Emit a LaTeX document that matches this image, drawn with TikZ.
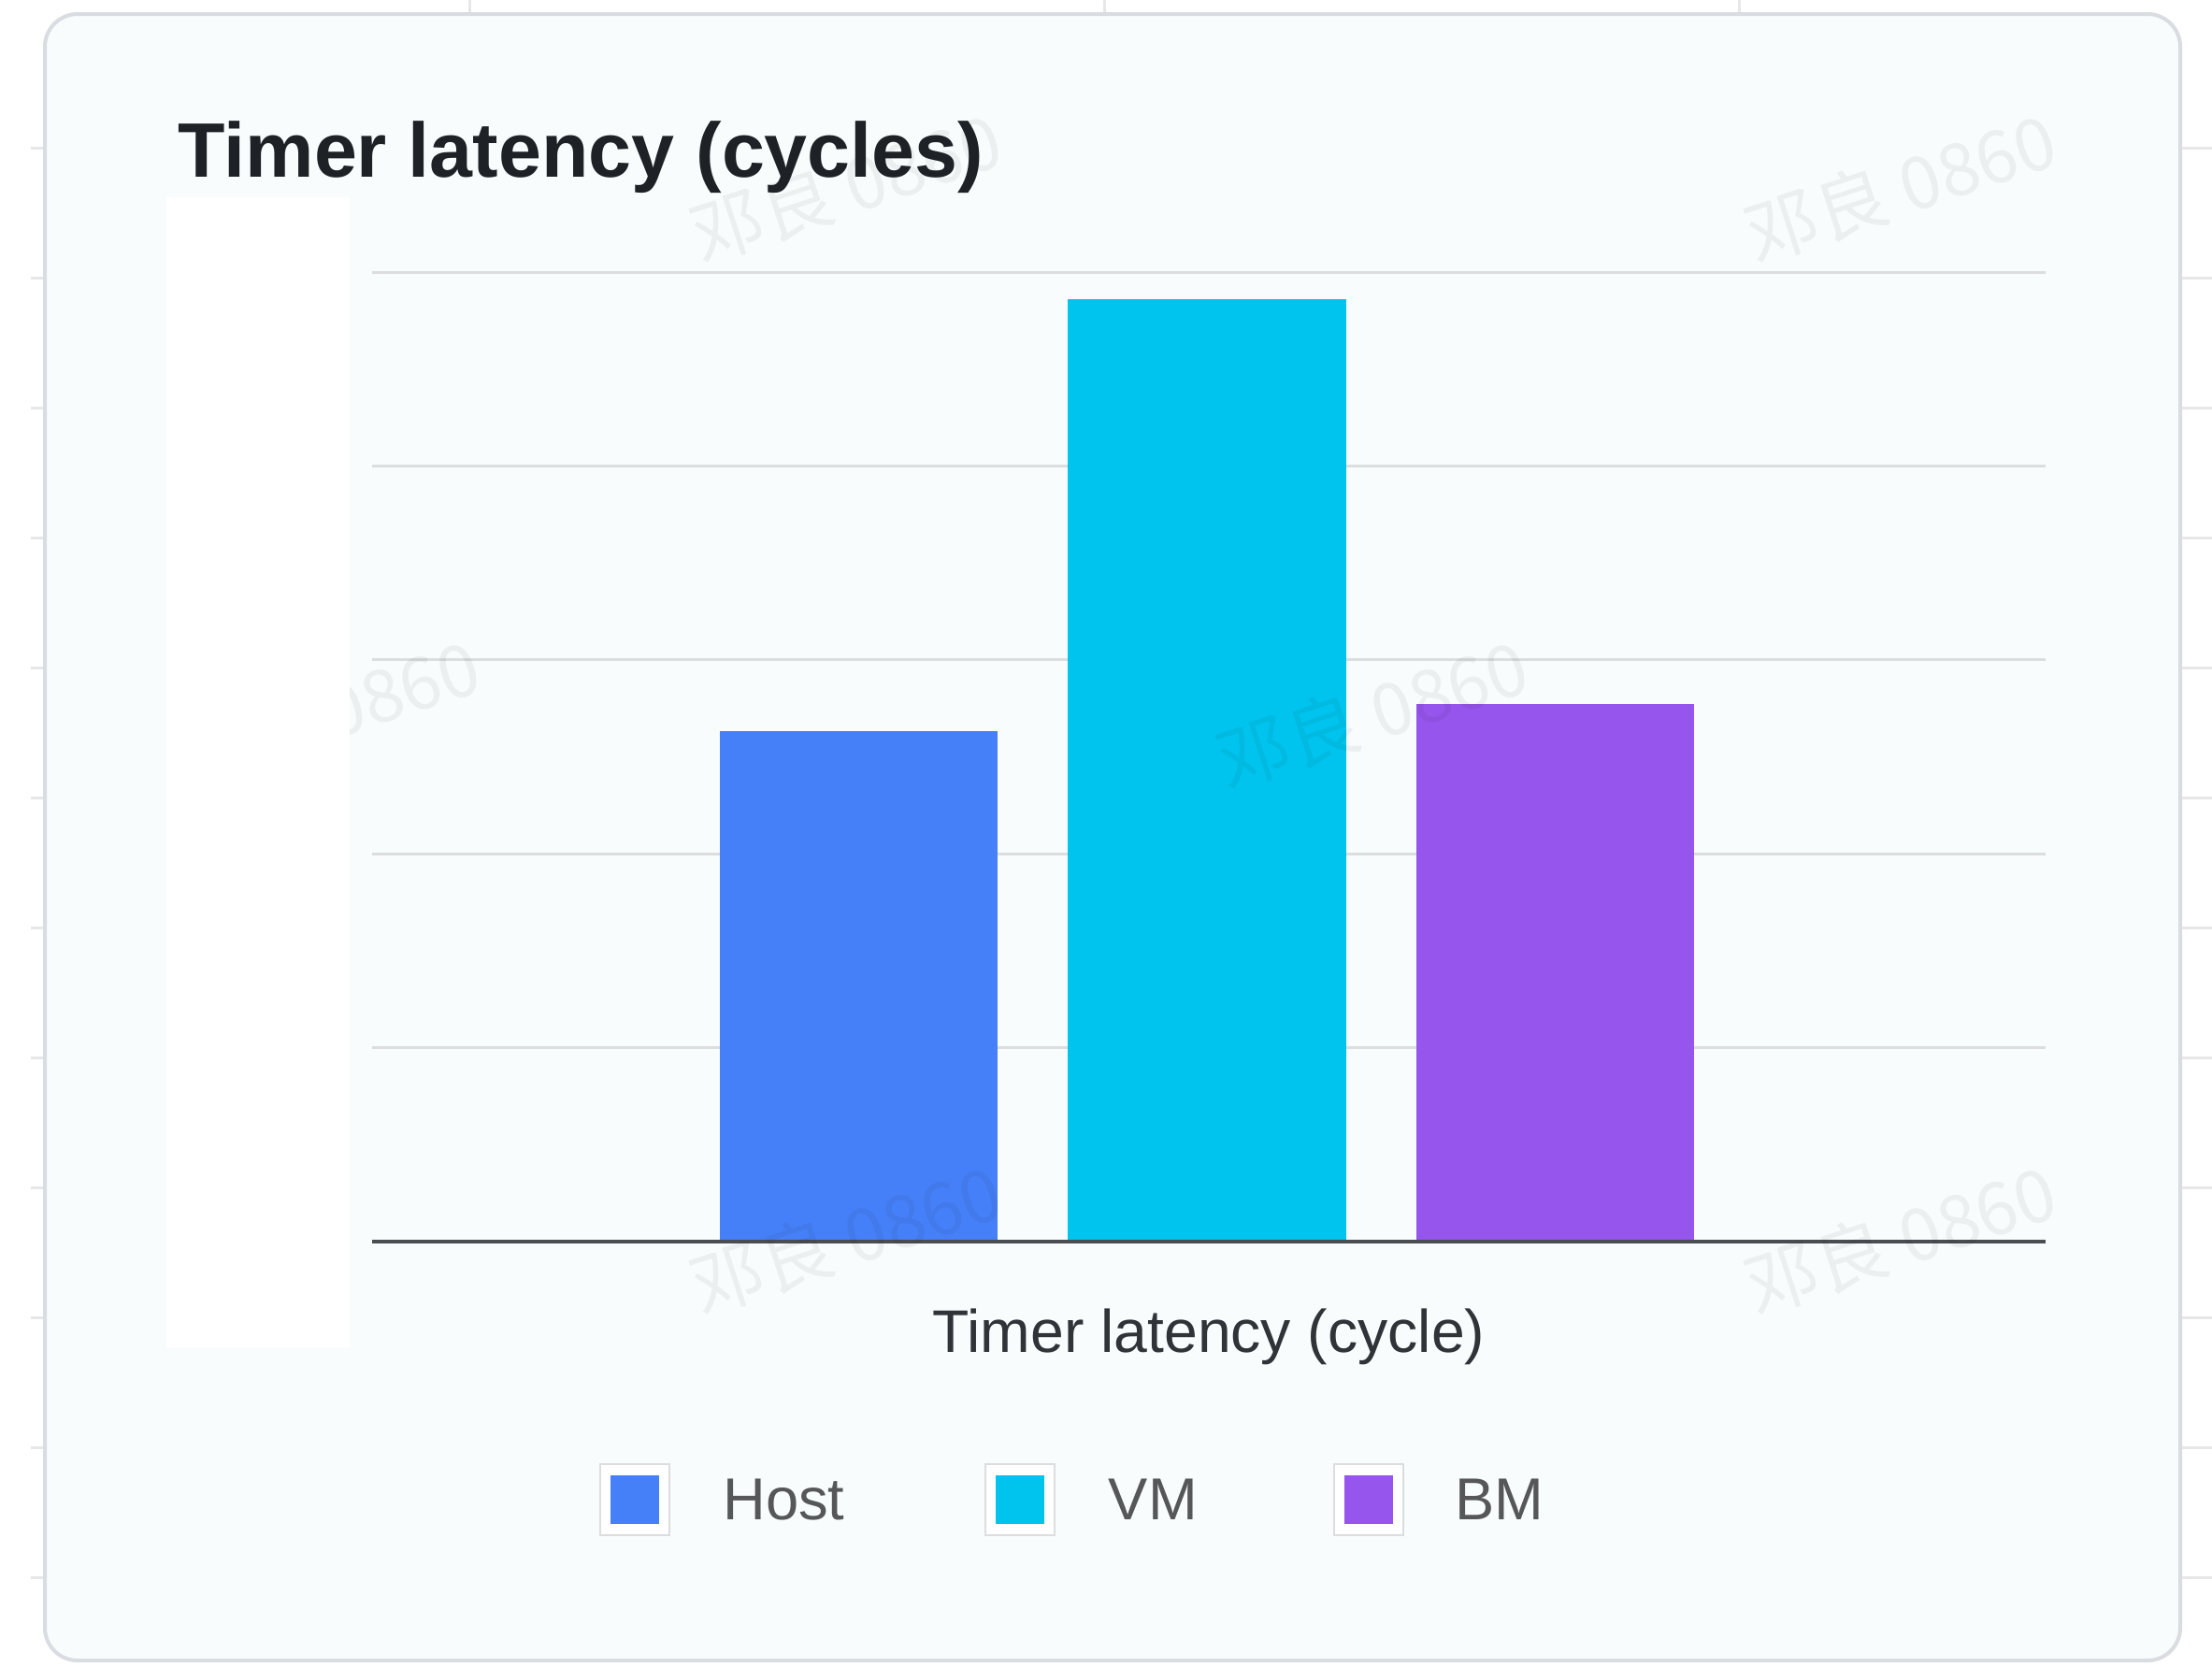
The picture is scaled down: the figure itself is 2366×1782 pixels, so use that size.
\documentclass[tikz,border=0pt]{standalone}
\usepackage{fontspec}
\setmainfont{Liberation Sans}
\newfontfamily\cjkfont{Noto Sans CJK SC}
\usetikzlibrary{positioning}
\definecolor{hostblue}{HTML}{4680F8}
\definecolor{vmcyan}{HTML}{00C4EE}
\definecolor{bmpurple}{HTML}{9655EC}
\definecolor{panelbg}{HTML}{F8FCFC}
\definecolor{panelline}{HTML}{D9DCE0}
\definecolor{gridgray}{HTML}{DCDDDE}
\definecolor{axisgray}{HTML}{4A4D52}
\definecolor{titledark}{HTML}{1E2126}
\definecolor{labeldark}{HTML}{303338}
\definecolor{keytext}{HTML}{555759}

\begin{document}
\begin{tikzpicture}[x=0.1mm,y=-0.1mm,
  bar/.style={fill=#1,draw=none},
  keybox/.style={draw=gridgray,fill=white,line width=0.25mm,minimum width=7.4mm,minimum height=7.6mm,inner sep=0pt},
  keyfill/.style={fill=#1,minimum size=5.2mm,inner sep=0pt},
  keylabel/.style={font=\fontsize{18}{22}\selectfont,text=keytext,inner sep=0pt},
  wmark/.style={font=\cjkfont\fontsize{22}{26}\selectfont,text=black,text opacity=0.05,rotate=18,inner sep=0pt}]
\useasboundingbox (0,0) rectangle (2366,1782);
\fill[white] (0,0) rectangle (2366,1782);
% sheet lines behind the card
\foreach \k in {0,...,11}{
  \draw[gridgray!70,line width=0.3mm] (33,158+139*\k) -- (48,158+139*\k);
  \draw[gridgray!70,line width=0.3mm] (2332,158+139*\k) -- (2366,158+139*\k);
}
\foreach \x in {502,1181,1860}
  \draw[gridgray!70,line width=0.3mm] (\x,0) -- (\x,15);
% card
\draw[panelline,fill=panelbg,line width=0.4mm,rounded corners=3.5mm] (48,15) rectangle (2332,1776);
% grid
\foreach \g in {1,...,5}
  \draw[gridgray,line width=0.3mm] (398,1328-207.4*\g) -- (2188,1328-207.4*\g);
% bars
\fill[bar=hostblue] (770,782) rectangle (1067,1328);
\fill[bar=vmcyan] (1142,320) rectangle (1440,1328);
\fill[bar=bmpurple] (1515,753) rectangle (1812,1328);
\draw[axisgray,line width=0.4mm] (398,1328) -- (2188,1328);
% watermark
\node[wmark] (wm1) at (347,763) {邓良 0860};
\node[wmark] (wm2) at (905,200) {邓良 0860};
\node[wmark] (wm3) at (2033,200) {邓良 0860};
\node[wmark] (wm4) at (1468,763) {邓良 0860};
\node[wmark] (wm5) at (905,1325) {邓良 0860};
\node[wmark] (wm6) at (2033,1325) {邓良 0860};
\fill[white] (178,211) rectangle (374,1441);
% texts
\node[anchor=base west,inner sep=0pt,text=titledark,font=\bfseries\fontsize{23.5}{28}\selectfont] (title) at (190,189) {Timer latency (cycles)};
\node[anchor=base,inner sep=0pt,text=labeldark,font=\fontsize{18.3}{22}\selectfont] (xlabel) at (1293,1446) {Timer latency (cycle)};
% legend
\node[keybox] (hostkey) at (679,1604) {};
\node[keyfill=hostblue] at (hostkey) {};
\node[keylabel,right=5.55mm of hostkey] (hostlab) {Host};
\node[keybox,right=14.85mm of hostlab] (vmkey) {};
\node[keyfill=vmcyan] at (vmkey) {};
\node[keylabel,right=5.6mm of vmkey] (vmlab) {VM};
\node[keybox,right=14.4mm of vmlab] (bmkey) {};
\node[keyfill=bmpurple] at (bmkey) {};
\node[keylabel,right=5.35mm of bmkey] (bmlab) {BM};
\end{tikzpicture}
\end{document}
